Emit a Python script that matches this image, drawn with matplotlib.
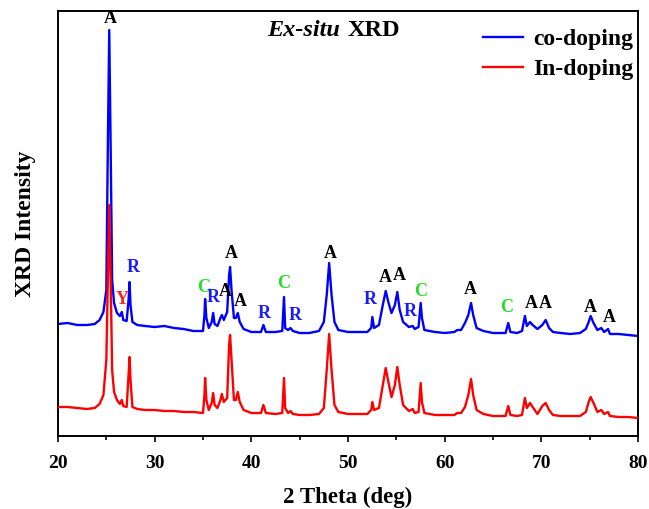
import numpy as np
import matplotlib
matplotlib.use("Agg")
import matplotlib.pyplot as plt

# 2θ positions (deg)
two_theta = [
    20.0, 21.0, 22.0, 23.0, 23.8, 24.3, 24.7, 25.0, 25.15, 25.3,
    25.45, 25.6, 25.8, 26.1, 26.4, 26.6, 26.75, 27.1, 27.3, 27.4,
    27.5, 27.7, 28.2, 29.0, 30.0, 31.0, 32.0, 33.0, 34.0, 35.0,
    35.15, 35.22, 35.35, 35.6, 35.9, 36.05, 36.2, 36.5, 36.8, 36.95,
    37.15, 37.5, 37.7, 37.8, 37.95, 38.2, 38.4, 38.6, 38.8, 39.2,
    40.0, 41.0, 41.25, 41.5, 42.5, 43.2, 43.38, 43.5, 43.8, 44.05,
    44.3, 45.0, 46.0, 47.0, 47.5, 47.8, 48.05, 48.3, 48.6, 49.0,
    50.0, 51.0, 52.0, 52.4, 52.52, 52.7, 53.2, 53.6, 53.9, 54.2,
    54.5, 54.85, 55.1, 55.35, 55.7, 56.3, 56.7, 56.9, 57.3, 57.52,
    57.65, 57.9, 59.0, 60.0, 61.0, 61.3, 61.7, 62.1, 62.45, 62.73,
    62.95, 63.3, 64.0, 65.0, 66.3, 66.58, 66.8, 67.5, 68.0, 68.3,
    68.5, 68.83, 69.1, 69.6, 70.1, 70.45, 70.8, 71.2, 72.0, 73.0,
    74.0, 74.6, 74.9, 75.1, 75.4, 75.8, 76.2, 76.5, 76.9, 77.1,
    78.0, 79.0, 80.0,
]

# intensities (a.u.), co-doping curve already stacked above In-doping
co_doping = [
    112, 113, 111, 111, 112, 116, 124, 146, 286, 406,
    286, 156, 133, 123, 120, 124, 116, 115, 136, 154,
    131, 114, 111, 110, 109, 110, 108, 107, 105, 105,
    121, 137, 118, 108, 114, 123, 112, 110, 118, 121,
    116, 124, 161, 169, 146, 118, 118, 123, 114, 107,
    104, 104, 111, 104, 104, 105, 139, 108, 106, 108,
    105, 103, 103, 105, 114, 141, 173, 141, 114, 106,
    104, 104, 104, 108, 119, 108, 111, 131, 145, 133,
    123, 131, 144, 126, 114, 109, 110, 107, 109, 133,
    118, 106, 104, 103, 104, 106, 106, 113, 121, 133,
    121, 108, 105, 103, 103, 113, 104, 103, 105, 120,
    110, 114, 111, 107, 111, 116, 108, 104, 103, 102,
    103, 107, 114, 120, 113, 106, 108, 104, 107, 102,
    102, 101, 100,
]

in_doping = [
    29, 29, 28, 27, 28, 32, 41, 76, 156, 231,
    156, 66, 44, 36, 32, 36, 30, 29, 61, 79,
    56, 29, 27, 26, 26, 25, 25, 24, 24, 23,
    41, 58, 36, 26, 33, 43, 31, 28, 36, 42,
    34, 38, 91, 101, 76, 36, 36, 44, 34, 26,
    23, 23, 31, 23, 22, 23, 58, 28, 23, 25,
    22, 21, 21, 22, 28, 66, 102, 66, 31, 24,
    22, 22, 22, 26, 34, 26, 28, 51, 68, 53,
    39, 51, 69, 51, 31, 25, 27, 23, 24, 53,
    34, 23, 21, 21, 21, 23, 23, 29, 41, 57,
    41, 26, 22, 20, 20, 30, 21, 20, 21, 38,
    28, 33, 29, 22, 30, 33, 26, 21, 20, 20,
    20, 24, 34, 39, 33, 24, 26, 22, 24, 20,
    19, 19, 18,
]

# phase labels: text, 2θ, height
peak_text = ["A", "Y", "R", "C", "R", "A", "A", "A", "R", "C", "R",
             "A", "R", "A", "A", "R", "C", "A", "C", "A", "A", "A", "A"]
peak_x = [25.38, 26.6, 27.73, 35.04, 36.1, 37.3, 37.97, 38.9, 41.34, 43.31, 44.52,
          48.14, 52.28, 53.83, 55.3, 56.41, 57.52, 62.62, 66.41, 68.97, 70.38, 75.03, 77.0]
peak_y = [418, 136, 168, 149, 138, 145, 183, 134, 123, 153, 121,
          183, 136, 158, 160, 125, 144, 147, 128, 132, 133, 128, 118]
phase_color = {"A": "black", "R": "#1a1aff", "C": "#22dd22", "Y": "#ff2020"}

plt.rcParams['font.family'] = ['Liberation Serif', 'DejaVu Serif']
plt.rcParams['font.weight'] = 'bold'

fig = plt.figure(figsize=(6.49, 5.09), dpi=100)
ax = fig.add_axes([58 / 649, 1 - 436 / 509, 580 / 649, 425 / 509])

ax.plot(two_theta, co_doping, color='#0000ff', lw=1.7, label='co-doping', zorder=2)
ax.plot(two_theta, in_doping, color='#ff0000', lw=1.7, label='In-doping', zorder=3)

for t, x, y in zip(peak_text, peak_x, peak_y):
    ax.text(x, y, t, color=phase_color[t], fontsize=13, fontweight='bold',
            ha='center', va='center')

ax.set_xlim(20, 80)
ax.set_ylim(0, 425)
ax.set_xticks(np.arange(20, 81, 10))
ax.set_xticks(np.arange(25, 80, 10), minor=True)
ax.set_yticks([])
ax.tick_params(axis='x', which='major', direction='out', length=4.5, width=1.2,
               labelsize=14, pad=9)
ax.tick_params(axis='x', which='minor', direction='out', length=3, width=1.2)
for lab in ax.get_xticklabels():
    lab.set_fontweight('bold')
for s in ax.spines.values():
    s.set_linewidth(1.4)

ax.set_xlabel('2 Theta (deg)', fontsize=16.5, fontweight='bold', labelpad=11)
ax.set_ylabel('XRD Intensity', fontsize=17, fontweight='bold', labelpad=16)

ax.text(0.487, 0.955, 'Ex-situ', transform=ax.transAxes, fontsize=17.5,
        fontstyle='italic', fontweight='bold', ha='right', va='center')
ax.text(0.499, 0.955, 'XRD', transform=ax.transAxes, fontsize=17.5,
        fontweight='bold', ha='left', va='center')

leg = ax.legend(loc='upper right', bbox_to_anchor=(1.022, 1.0), frameon=False,
                fontsize=17, handlelength=1.7, handletextpad=0.4,
                borderpad=0.25, labelspacing=0.35)
for txt in leg.get_texts():
    txt.set_fontweight('bold')

fig.savefig('out.png', dpi=100)
